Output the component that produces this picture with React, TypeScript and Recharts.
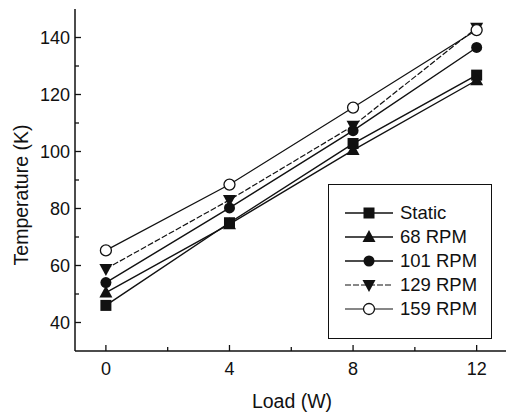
import React from 'react';
import { LineChart, Line, XAxis, YAxis, Legend } from 'recharts';

const loads = [0, 4, 8, 12];
const staticT = [46, 75, 102.8, 126.8];
const rpm68 = [50.5, 74.5, 100.5, 125];
const rpm101 = [54, 80.2, 107.3, 136.5];
const rpm129 = [58.8, 83, 109, 143.4];
const rpm159 = [65.3, 88.4, 115.4, 142.6];

const xTicks = [0, 2, 4, 6, 8, 10, 12];
const xMajor = [0, 4, 8, 12];
const yTicks = [40, 50, 60, 70, 80, 90, 100, 110, 120, 130, 140];
const yMajor = [40, 60, 80, 100, 120, 140];

const data = loads.map((l, i) => ({
  load: l,
  s: staticT[i],
  r68: rpm68[i],
  r101: rpm101[i],
  r129: rpm129[i],
  r159: rpm159[i],
}));

const FONT = '"Liberation Sans", Arial, Helvetica, sans-serif';

type Shape = 'square' | 'tri' | 'circle' | 'dtri' | 'ocircle';

const marker = (shape: Shape, cx: number, cy: number, key?: any) => {
  switch (shape) {
    case 'square':
      return <rect key={key} x={cx - 5.5} y={cy - 5.5} width={11} height={11} fill="#111" />;
    case 'tri':
      return <polygon key={key} points={`${cx},${cy - 7} ${cx - 6.5},${cy + 5} ${cx + 6.5},${cy + 5}`} fill="#111" />;
    case 'circle':
      return <circle key={key} cx={cx} cy={cy} r={5.5} fill="#111" />;
    case 'dtri':
      return <polygon key={key} points={`${cx},${cy + 7} ${cx - 6.5},${cy - 5} ${cx + 6.5},${cy - 5}`} fill="#111" />;
    case 'ocircle':
      return <circle key={key} cx={cx} cy={cy} r={5.5} fill="#fff" stroke="#111" strokeWidth={1.3} />;
  }
};

const dotFn = (shape: Shape) => (props: any) => {
  const { cx, cy, index } = props;
  return marker(shape, cx, cy, `${shape}-${index}`);
};

const series: { key: string; name: string; shape: Shape; dash?: string; width: number }[] = [
  { key: 's', name: 'Static', shape: 'square', width: 1.5 },
  { key: 'r68', name: '68 RPM', shape: 'tri', width: 1.4 },
  { key: 'r101', name: '101 RPM', shape: 'circle', width: 1.4 },
  { key: 'r129', name: '129 RPM', shape: 'dtri', dash: '6 2', width: 1.2 },
  { key: 'r159', name: '159 RPM', shape: 'ocircle', width: 1.2 },
];

const YTick = (props: any) => {
  const { x, y, payload } = props;
  const v = payload.value;
  const major = yMajor.includes(v);
  const ax = x + 5;
  return (
    <g>
      <line x1={ax} y1={y} x2={ax + (major ? 6 : 4)} y2={y} stroke="#111" strokeWidth={1.3} />
      {major && (
        <text x={x} y={y + 6.5} textAnchor="end" fontSize={18} fontFamily={FONT} fill="#111">
          {v}
        </text>
      )}
    </g>
  );
};

const XTick = (props: any) => {
  const { x, y, payload } = props;
  const v = payload.value;
  const major = xMajor.includes(v);
  return (
    <g>
      <line x1={x} y1={y} x2={x} y2={y - (major ? 6 : 4)} stroke="#111" strokeWidth={1.3} />
      {major && (
        <text x={x} y={y + 24} textAnchor="middle" fontSize={18} fontFamily={FONT} fill="#111">
          {v}
        </text>
      )}
    </g>
  );
};

const LegendBox = () => (
  <div
    style={{
      position: 'absolute',
      left: 328,
      top: 184,
      width: 164,
      height: 155,
      border: '1.5px solid #111',
      background: '#fff',
      boxSizing: 'border-box',
      paddingTop: 16,
      paddingLeft: 16,
    }}
  >
    {series.map((s) => (
      <div key={s.key} style={{ display: 'flex', alignItems: 'center', height: 24 }}>
        <svg width={50} height={20} style={{ display: 'block' }}>
          <line x1={0} y1={10} x2={48} y2={10} stroke="#111" strokeWidth={s.width} strokeDasharray={s.dash} />
          {marker(s.shape, 24, 10)}
        </svg>
        <span style={{ fontFamily: FONT, fontSize: 18.5, color: '#111', marginLeft: 5, lineHeight: '20px' }}>
          {s.name}
        </span>
      </div>
    ))}
  </div>
);

export default function App() {
  return (
    <div style={{ position: 'absolute', left: 0, top: 0, width: 506, height: 419, overflow: 'hidden', background: '#fff' }}>
      <LineChart
        width={523}
        height={419}
        data={data}
        margin={{ top: 9, right: 0, bottom: 0, left: 0 }}
      >
        <XAxis
          xAxisId="top"
          orientation="top"
          dataKey="load"
          type="number"
          domain={[-1, 13.5]}
          height={0}
          tick={false}
          tickLine={false}
          axisLine={{ stroke: '#111', strokeWidth: 1.5 }}
        />
        <XAxis
          dataKey="load"
          type="number"
          domain={[-1, 13.5]}
          ticks={xTicks}
          interval={0}
          height={68}
          tickSize={0}
          tickMargin={0}
          tickLine={false}
          tick={<XTick />}
          axisLine={{ stroke: '#111', strokeWidth: 1.5 }}
          label={{
            content: () => (
              <text x={292} y={408} textAnchor="middle" fontSize={19.5} fontFamily={FONT} fill="#111">
                Load (W)
              </text>
            ),
          }}
        />
        <YAxis
          type="number"
          domain={[30, 150]}
          ticks={yTicks}
          interval={0}
          width={75}
          tickSize={0}
          tickMargin={5}
          tickLine={false}
          tick={<YTick />}
          axisLine={{ stroke: '#111', strokeWidth: 1.5 }}
          label={{
            content: () => (
              <text
                x={28}
                y={195}
                transform="rotate(-90 28 195)"
                textAnchor="middle"
                fontSize={19.5}
                fontFamily={FONT}
                fill="#111"
              >
                Temperature (K)
              </text>
            ),
          }}
        />
        {series.map((s) => (
          <Line
            key={s.key}
            dataKey={s.key}
            name={s.name}
            type="linear"
            stroke="#111"
            strokeWidth={s.width}
            strokeDasharray={s.dash}
            dot={dotFn(s.shape)}
            activeDot={false}
            isAnimationActive={false}
          />
        ))}
        <Legend
          content={() => <LegendBox />}
          wrapperStyle={{ position: 'absolute', left: 0, top: 0, width: 0, height: 0 }}
        />
      </LineChart>
    </div>
  );
}
